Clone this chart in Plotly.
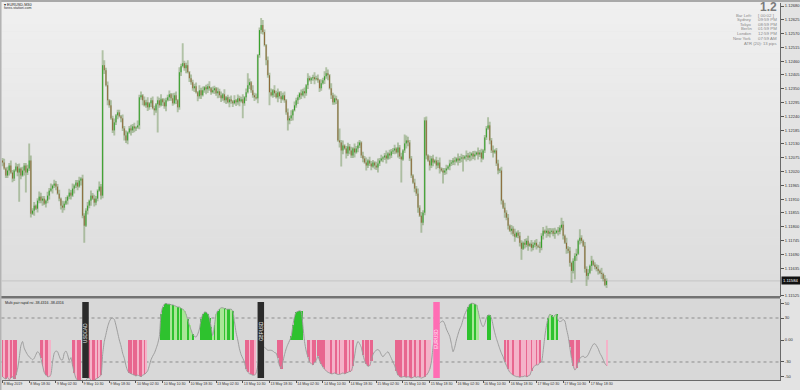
import plotly.graph_objects as go

W, H = 800, 390
def px(x): return x / W
def py(y): return 1 - y / H

BASE = 1.10000
PT = 0.00001

# ---- EURUSD M30 closes, in points above 1.10000 ----
close_pts = [
    2056,2032,2004,2024,2044,2016,1992,2024,2040,2016,2032,2004,2024,2044,2016,2032,2064,
    1852,1864,1884,1872,1904,1920,1904,1912,1892,1904,1924,1944,1952,
    1964,1972,1960, 1932,1912,1884,1876,
    1892,1904,1920,1936,1924,1952,1964,1976,1960,1984,1992,
    1844,1804, 1864,1884,1904,1924,1912,1896,1912,1944,1960,1924,
    2444, 2424,2364,2304,2284, 2232,2184, 2216,2244,2256,2240,2232, 2192,2164,2144,
    2176,2192,2184,2200,2192,2196,2204, 2316, 2324,2304,2284,2296,2276,
    2292,2304,2272,2264,2288,2304,2284,2308,
    2296,2280,2304,2316,2328,2312,2292,2324,2304,2276,
    2416, 2440,2452,2432,2444,2416, 2392,2376,2352,2360, 2336,2320,2344,2324,
    2344,2356,2348,2360,2352,2336,2344,2352,2332,2340,
    2324,2312,2328,2304,2316,2296,2308,2300,
    2292,2304,2296,2312,2300,2308,2292,2316,
    2336,2364,2376,2344,2324, 2316,2312, 2484, 2584,2604,2576, 2524,2464,2404, 2336,
    2324,2344,2332,2316,2336,2320,2308,2324,2304,
    2256,2224,2232, 2244,2264,2284,2304,2316, 2332,2324,2340,2332, 2364,2392,
    2384,2392,2396,2388,2392,2384, 2352, 2372,2384,2400,2412,2404,
    2352,2324,2296,2312,2304, 2144,
    2136,2104,2124,2112,2092,2120,2104,2084,2112,2096,2112,2124, 2136,
    2084,2072,2056,2044,2064, 2052,2040,2056,2044,2036,2052,2064,
    2072,2076,2084,2072,2092,2084,2100,2104,2112,2096,2116, 2080,2068,
    2104,2132,2144,2136, 2072, 2004,1976,1952,1932, 1876,1844,1816, 1856, 2224,
    2084,2064,2044,2072,2056, 2064,2044,2056,2032, 2024,2016,2024,2032,
    2040,2052,2056,2064,2060,2072,2064,2072,
    2076,2072,2080,2084,2076,2084,2092,2080,2088,2096,2088,2096,2072,
    2104,2156,2192,2204, 2144,2104,2096, 2104,2052,2024, 2024,1904, 1876, 1856,1836,
    1804,1784,1792,1772,1760,1776,1764, 1736,1712,
    1736,1728,1744,1724,1732,1716,1728,1736,1724,1720, 1716,
    1764,1784,1776,1784,1772,1780,1784,1772,1776,1784,1780, 1796,1808,
    1764,1736,1712,1704, 1656,1624, 1664,1684,1692, 1744,1756, 1744,1724,
    1632,1604,1616, 1644,1664,1648, 1640,1632,1624,1616,1612, 1592,1568,1584,
]

# wick lengths (digit x 5 points), read bar by bar
wick_up_digits = "".join([
    "2313242132","4132231423","1243221324","1322314231","3241223132","2314232142",
    "3423142312","2132412323","1423132412","3213241322","3142314232","2413223142",
    "3122413213","2314122314","1322413231","4231234213","2314231423","1324132213",
    "2314212423","1324231423","2132412323","1423213241","3221342312","4132231423",
    "1243221324","2322314231","3241223132","2314232142","3123142312","2132412323",
    "1423132412","3213241322","3142314232","2413223142","3122413213","2314122314","132"])
wick_dn_digits = "".join([
    "3122413213","2314122314","1322413231","4231234213","2314231423","1324132213",
    "2314212423","1324231423","2132412323","1423213241","3221342312","4132231423",
    "1243221324","2322314231","3241223132","2314232142","3123142312","2132412323",
    "1423132412","3213241322","3142314232","2413223142","2313242132","4132231423",
    "1243221324","1322314231","3241223132","2314232142","3423142312","2132412323",
    "1423132412","3213241322","3142314232","2413223142","3122413213","2314122314","213"])

high_over = {16: 2132, 60: 2504, 108: 2532, 147: 2412, 155: 2632, 194: 2436, 202: 2192,
             241: 2168, 253: 2236, 291: 2236, 335: 1836, 346: 1790}
low_over = {10: 1900, 14: 1936, 49: 1736, 93: 2176, 144: 2232, 160: 2284, 171: 2184,
            203: 2040, 239: 1976, 251: 1776, 264: 1972, 276: 2020, 311: 1668,
            341: 1576, 343: 1590, 350: 1564, 362: 1556}

last_price = "1.11584"

# ---- Multi pair rapid rsi ----
rsi_vals = [
    -50,-52,-53,-51,-54,-52,-50,-53,-48,-40, -25,-8,-2, -11,-16,-20,-23,-25,-27,-25,
    -20,-16,-18, -25,-35,-44,-48,-50,-50,-47, -30,-18,-15,-16, -22,-27,-27,
    -18,-15,-20,-28,-24, -35,-45,-52,-55,-57,-56, -55,-56,-55,-52,-52,
    -55,-57,-55,-53,-52,-50,-48, -20,-2,8,18, 25,29,30,28, 20,10,0,-8, -18,-25,-35,-42,
    -45,-46,-47,-48,-49,-48,-49,-50,-48,-47,-45, -42,-35,-27,-22,-18,-12,-5,
    5,36,45,49,50,49,49,48,48,47,46,45,45,43,42,40,35,28,20, 14,8,5,4,
    8,15,28,35,38,38,36,30,18,6, 20,35,40,42,44,44,43,42,42,42,42,40,
    25,10,0, -12,-20,-25,-30, -40,-44,-46,-47,-48,-48, -45,-35,-20,-10,-8, -10,-12,-14,-14,
    -14,-15,-17,-18,-25,-35,-39,-30,-20,-12,-6,-1,5,20,32,38,39,40,39,
    20,-2,-15,-23,-30,-32,-34,-30,-28,
    -22,-28,-33,-37,-40,-42,-44,-45,-46,-46,-45,-46,-47,-47,-46,-45,-46,-45,-44,-43,-42,-35,-22,
    -8,-2,-5,-10, -20,-28,-33,-36,-35,-28,-20,
    -16,-14,-13,-15,-20,-23,-20,-18,-16,-20,-25,-30,-35,
    -42,-48,-50,-51,-50,-50,-51,-50,-51,-52,-51,-50,-51,-50,-51,-52,-51,-50,-48,-45,-40,-30,
    -10,5,15,20,23, 25,26,22,15,10,5,-5,-16,-10,0,8,15,20,28,35,40,
    45,49,50,50,49,48,40,30, 22,18,22,30,34, 34,30, 20,10,2,-5,-12,-18,-23,
    -30,-35,-40,-44,-46,-48,-49,-50,-50,-51,-50,-50,-49,-50,-49,-48,-42,-38,-35,-34,-34,
    -31,-30,-15,5,20,30,35,34,31,34,35,27,25,26,28,26,15,5,-10,-25,-35,-41,-38,-30,
    -25,-23,-22,-24,-23,-20,-15,-10,-6,-5,-8,-12,-18,-22,-27,-32,-35,
]
pink_ranges = [(0, 8), (23, 28), (42, 46), (52, 59), (76, 86), (146, 151), (165, 167),
               (183, 187), (189, 210), (216, 221), (236, 256), (301, 322), (340, 345), (362, 362)]
green_ranges = [(95, 114), (119, 138), (173, 179), (279, 285), (291, 292), (327, 332)]
# histogram stripe shade per bar (1 = strong colour, 0 = pale)
shade_digits = "".join([
    "1011010110","0000000000","0001101100","0000000000","0011011000","0010110101",
    "0000000000","0000001101","1011010000","0000011111","1010010100","0100100001",
    "1111110101","1001011010","0000001101","1000000000","0000011100","0001111111",
    "0001101101","1111000100","1010011010","1000001011","0100000000","0000001111",
    "0110110100","1001000000","0000000000","0000000001","1101000000","0110000000",
    "0101001000","1000100100","1010000101","1010000000","1110110000","0000000000","000"])
rsi_label = "Multi pair rapid rsi -38.4316 -38.4316"

signal_pairs = ["USDCAD", "GBPUSD", "EURUSD"]
signal_bars = [49.75, 154.8, 260.1]
signal_colors = ["#2b2b2b", "#2b2b2b", "#ff6db4"]
signal_text_colors = ["#e6e6e6", "#e6e6e6", "#ffe4f2"]
signal_text_y = [9, 12, 1]

tick_labels = ["8 May 2019", "8 May 18:30", "9 May 02:30", "9 May 10:30", "9 May 18:30",
               "10 May 02:30", "10 May 10:30", "10 May 18:30", "13 May 02:30", "13 May 10:30",
               "13 May 18:30", "14 May 02:30", "14 May 10:30", "14 May 18:30", "15 May 02:30",
               "15 May 10:30", "15 May 18:30", "16 May 02:30", "16 May 10:30", "16 May 18:30",
               "17 May 02:30", "17 May 10:30", "17 May 18:30"]
bars_per_label = 16
price_labels = ["1.12680", "1.12625", "1.12570", "1.12515", "1.12460", "1.12405", "1.12350",
                "1.12295", "1.12240", "1.12185", "1.12130", "1.12075", "1.12020", "1.11965",
                "1.11910", "1.11855", "1.11800", "1.11745", "1.11690", "1.11635", "1.11525"]
rsi_tick_vals = [50, 30, 0, -30, -50]
rsi_tick_text = ["50", "30", "0.00", "-30", "-50"]
rsi_levels = [30, -30]

info_labels = ["Bar Left:", "Sydney", "Tokyo", "Berlin", "London", "New York"]
info_values = ["[ 00:02 ]", "09:59 PM", "08:59 PM", "01:59 PM", "12:59 PM", "07:59 AM"]
atr_text = "ATR (20): 13 pips"
big_text = "1.2"

# ---------------- build ----------------
n = len(close_pts)
idx = list(range(n))
open_pts = [close_pts[0] + 8] + close_pts[:-1]
wu = [int(ch) * 5 for ch in wick_up_digits]
wd = [int(ch) * 5 for ch in wick_dn_digits]
high_pts = [high_over.get(i, max(open_pts[i], close_pts[i]) + (wu[i] if i < len(wu) else 0)) for i in idx]
low_pts = [low_over.get(i, min(open_pts[i], close_pts[i]) - (wd[i] if i < len(wd) else 0)) for i in idx]

def price(p): return BASE + p * PT

wx, wy = [], []
bx_up, by_up, bx_dn, by_dn = [], [], [], []
for i in idx:
    wx += [i, i, None]
    wy += [price(low_pts[i]), price(high_pts[i]), None]
    o, c = open_pts[i], close_pts[i]
    lo, hi = min(o, c), max(o, c)
    if hi - lo < 4:
        hi = lo + 4
    if c >= o:
        bx_up += [i, i, None]; by_up += [price(lo), price(hi), None]
    else:
        bx_dn += [i, i, None]; by_dn += [price(lo), price(hi), None]

fig = go.Figure()
fig.add_trace(go.Scatter(x=wx, y=wy, mode="lines", xaxis="x", yaxis="y",
                         line=dict(color="rgba(95,135,70,0.42)", width=1.9), hoverinfo="skip"))
fig.add_trace(go.Scatter(x=bx_up, y=by_up, mode="lines", xaxis="x", yaxis="y",
                         line=dict(color="#35a02a", width=1.0), hoverinfo="skip"))
fig.add_trace(go.Scatter(x=bx_dn, y=by_dn, mode="lines", xaxis="x", yaxis="y",
                         line=dict(color="#8d6a3a", width=1.0), hoverinfo="skip"))

def strong(i):
    return i < len(shade_digits) and shade_digits[i] == "1"

hist_y = [None] * n
hist_c = ["rgba(0,0,0,0)"] * n
for a, b in pink_ranges:
    for i in range(a, b + 1):
        if i < n:
            hist_y[i] = rsi_vals[i]
            hist_c[i] = "#e8668f" if strong(i) else "#f4b3c9"
for a, b in green_ranges:
    for i in range(a, b + 1):
        if i < n:
            hist_y[i] = rsi_vals[i]
            hist_c[i] = "#2ec22e" if strong(i) else "#a8e696"

fig.add_trace(go.Bar(x=idx, y=hist_y, xaxis="x2", yaxis="y2", width=1.0,
                     marker=dict(color=hist_c, line=dict(width=0)), hoverinfo="skip"))
fig.add_trace(go.Scatter(x=idx, y=rsi_vals, mode="lines", xaxis="x2", yaxis="y2",
                         line=dict(color="#9d9d9d", width=1, shape="spline", smoothing=0.6),
                         hoverinfo="skip"))

shapes = []
# price panel gradient background
nb = 40
y_top, y_bot = 2.0, 296.0
for k in range(nb):
    t = k / (nb - 1)
    g = int(round(240 - 20 * t))
    shapes.append(dict(type="rect", xref="paper", yref="paper", layer="below",
                       x0=px(1.5), x1=px(780), y0=py(y_top + (y_bot - y_top) * (k + 1) / nb + 0.3),
                       y1=py(y_top + (y_bot - y_top) * k / nb),
                       fillcolor=f"rgb({g},{g},{g})", line=dict(width=0)))
shapes.append(dict(type="rect", xref="paper", yref="paper", layer="below",
                   x0=px(1.5), x1=px(780), y0=py(380), y1=py(298.5),
                   fillcolor="#d8d8d8", line=dict(width=0)))
shapes.append(dict(type="rect", xref="paper", yref="paper", layer="below",
                   x0=px(0), x1=px(780), y0=py(298.5), y1=py(296),
                   fillcolor="#727272", line=dict(width=0)))
shapes.append(dict(type="rect", xref="paper", yref="paper", layer="below",
                   x0=0, x1=1, y0=py(2), y1=1, fillcolor="#a9a9a9", line=dict(width=0)))
shapes.append(dict(type="rect", xref="paper", yref="paper", layer="below",
                   x0=0, x1=px(1.5), y0=0, y1=1, fillcolor="#b3b3b3", line=dict(width=0)))
# bid line
shapes.append(dict(type="line", xref="paper", yref="y", layer="below",
                   x0=px(1.5), x1=px(780), y0=float(last_price), y1=float(last_price),
                   line=dict(color="#c4c4c4", width=1)))
# rsi dotted levels
for lv in rsi_levels:
    shapes.append(dict(type="line", xref="paper", yref="y2", layer="below",
                       x0=px(1.5), x1=px(780), y0=lv, y1=lv,
                       line=dict(color="#8c8c8c", width=1, dash="dot")))
# signal boxes
for b, col in zip(signal_bars, signal_colors):
    shapes.append(dict(type="rect", xref="x2", yref="y2", layer="above",
                       x0=b - 1.95, x1=b + 1.95, y0=-51.8, y1=51.8,
                       fillcolor=col, line=dict(width=0)))

ann = []
FONT = "Liberation Sans"
for name, b, tc, ty in zip(signal_pairs, signal_bars, signal_text_colors, signal_text_y):
    ann.append(dict(text=name, xref="x2", yref="y2", x=b, y=ty, showarrow=False,
                    textangle=-90, font=dict(size=4.6, color=tc, family=FONT)))
ann.append(dict(text=rsi_label, xref="paper", yref="paper", x=px(2.5), y=py(303),
                xanchor="left", yanchor="middle", showarrow=False,
                font=dict(size=3.6, color="#222", family=FONT)))
ann.append(dict(text="▾ EURUSD,M30", xref="paper", yref="paper", x=px(2), y=py(4.6),
                xanchor="left", yanchor="middle", showarrow=False,
                font=dict(size=3.8, color="#222", family=FONT)))
ann.append(dict(text="forex-station.com", xref="paper", yref="paper", x=px(1.6), y=py(7.8),
                xanchor="left", yanchor="middle", showarrow=False,
                font=dict(size=3.6, color="#333", family=FONT)))
ann.append(dict(text="<b>" + big_text + "</b>", xref="paper", yref="paper", x=px(778.5), y=py(7.2),
                xanchor="right", yanchor="middle", showarrow=False,
                font=dict(size=12, color="#7b7b7b", family=FONT)))
rows_y = [15.2, 19.7, 24.2, 28.7, 33.3, 38.1]
for lab, val, ry in zip(info_labels, info_values, rows_y):
    ann.append(dict(text=lab, xref="paper", yref="paper", x=px(753.5), y=py(ry),
                    xanchor="right", yanchor="middle", showarrow=False,
                    font=dict(size=4.2, color="#8a8a8a", family=FONT)))
    ann.append(dict(text=val, xref="paper", yref="paper", x=px(755.5), y=py(ry),
                    xanchor="left", yanchor="middle", showarrow=False,
                    font=dict(size=4.4, color="#8a8a8a", family=FONT)))
ann.append(dict(text=atr_text, xref="paper", yref="paper", x=px(778.5), y=py(43),
                xanchor="right", yanchor="middle", showarrow=False,
                font=dict(size=4.2, color="#8a8a8a", family=FONT)))
ann.append(dict(text=last_price, xref="paper", yref="y", x=px(780.5), y=float(last_price),
                xanchor="left", yanchor="middle", showarrow=False, bgcolor="#111111",
                borderpad=1, width=17, align="left",
                font=dict(size=4.2, color="#ffffff", family=FONT)))

xr = [-0.6, -0.6 + 778 / 1.6676]
fig.update_layout(
    width=W, height=H, margin=dict(l=0, r=0, t=0, b=0, autoexpand=False),
    paper_bgcolor="#e3e3e3", plot_bgcolor="rgba(0,0,0,0)",
    showlegend=False, barmode="overlay", bargap=0,
    font=dict(family=FONT),
    xaxis=dict(domain=[px(1.5), px(780)], range=xr, anchor="y", showticklabels=False,
               showgrid=False, zeroline=False, showline=False, ticks="", automargin=False),
    xaxis2=dict(domain=[px(1.5), px(780)], range=xr, matches="x", anchor="y2",
                tickmode="array", tickvals=[bars_per_label * k for k in range(len(tick_labels))],
                ticktext=tick_labels, ticks="outside", ticklen=2, tickwidth=1, tickcolor="#555",
                ticklabelposition="outside right", tickangle=0, automargin=False,
                tickfont=dict(size=3.6, color="#333", family=FONT),
                showgrid=False, zeroline=False, showline=True, linecolor="#6a6a6a", linewidth=1),
    yaxis=dict(domain=[py(297), py(3)], range=[1.115198, 1.126920], anchor="x", side="right",
               tickmode="array", tickvals=[float(s) for s in price_labels], ticktext=price_labels,
               ticks="outside", ticklen=3, tickwidth=1, tickcolor="#555", automargin=False,
               tickfont=dict(size=4.1, color="#333", family=FONT),
               showgrid=False, zeroline=False, showline=True, linecolor="#6a6a6a", linewidth=1),
    yaxis2=dict(domain=[py(380), py(299)], range=[-54.57, 55.93], anchor="x2", side="right",
                tickmode="array", tickvals=rsi_tick_vals, ticktext=rsi_tick_text,
                ticks="outside", ticklen=3, tickwidth=1, tickcolor="#555", automargin=False,
                tickfont=dict(size=4.1, color="#333", family=FONT),
                showgrid=False, zeroline=False, showline=True, linecolor="#6a6a6a", linewidth=1),
    shapes=shapes, annotations=ann,
)

fig.write_html("out.html")
